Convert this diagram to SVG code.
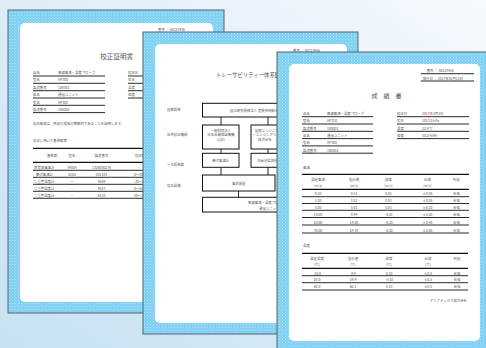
<svg xmlns="http://www.w3.org/2000/svg" width="486" height="348" viewBox="0 0 486 348">
<defs>
<linearGradient id="bg" x1="1" y1="0" x2="0" y2="1">
<stop offset="0" stop-color="#f6fafd"/>
<stop offset="0.45" stop-color="#e0eef8"/>
<stop offset="1" stop-color="#c6e1f2"/>
</linearGradient>
<pattern id="dots" width="3" height="3" patternUnits="userSpaceOnUse">
<rect width="3" height="3" fill="#7ed0f3"/>
<rect x="0" y="0" width="1" height="1" fill="#b4e5fa"/>
<rect x="1.5" y="1.5" width="1" height="1" fill="#a2def8"/>
</pattern>
<style>
.frame{fill:url(#dots);stroke:#56646e;stroke-width:1}
.paper{fill:#fff}
.t{font-family:"Noto Sans CJK JP","Noto Sans",sans-serif;font-size:3.4px;fill:#555}
.m{text-anchor:middle}
.e{text-anchor:end}
.ttl{font-family:"Noto Sans CJK JP","Noto Sans",sans-serif;fill:#555}
.ln{stroke:#111;stroke-width:0.9;fill:none}
.thk{stroke:#111;stroke-width:1.3;fill:none}
.box{fill:#fff;stroke:#111;stroke-width:1}
</style>
</defs>
<rect width="486" height="348" fill="url(#bg)"/>

<g id="doc1">
<rect class="frame" x="8" y="10" width="216" height="303"/>
<rect class="paper" x="20" y="23" width="193" height="279" rx="5"/>
<text class="t" x="158" y="30.5">番号 ： A0123456</text>
<text class="ttl" x="116.7" y="58.5" font-size="6.6" text-anchor="middle">校正証明書</text>
<g class="t">
<text x="33" y="74">品名</text><text x="58" y="74">無線風速・温度プローブ</text>
<text x="33" y="81.3">型名</text><text x="58" y="81.3">AP300</text>
<text x="33" y="88.9">製造番号</text><text x="58" y="88.9">100001</text>
<text x="33" y="96.3">品名</text><text x="58" y="96.3">通信ユニット</text>
<text x="33" y="103.5">型名</text><text x="58" y="103.5">AP300</text>
<text x="33" y="110.8">製造番号</text><text x="58" y="110.8">100002</text>
<text x="128" y="74">校正日</text>
<text x="128" y="81.3">気圧</text>
<text x="128" y="88.9">温度</text>
<text x="128" y="96.3">湿度</text>
<text x="33" y="124.5">校正結果は、所定の規格の範囲内であることを証明します。</text>
<text x="33" y="142">校正に用いた基準器等</text>
<text x="52" y="156.5" class="m">基準器</text>
<text x="72" y="156.5" class="m">型名</text>
<text x="101.5" y="156.5" class="m">製造番号</text>
<text x="135" y="156.5">校正範囲</text>
<text x="34" y="168.5">超音波風速計</text><text x="72" y="168.5" class="m">3400A</text><text x="101.5" y="168.5" class="m">1326000276</text><text x="137" y="168.5">－</text>
<text x="36" y="175.5">熱式風速計</text><text x="72" y="175.5" class="m">6162</text><text x="101.5" y="175.5" class="m">001188</text><text x="134" y="175.5">0～30m/s</text>
<text x="34" y="182.5">二重管温度計</text><text x="72" y="182.5" class="m">－</text><text x="101.5" y="182.5" class="m">4584</text><text x="134" y="182.5">-20～0℃</text>
<text x="34" y="189.5">二重管温度計</text><text x="72" y="189.5" class="m">－</text><text x="101.5" y="189.5" class="m">4587</text><text x="134" y="189.5">0～50℃</text>
<text x="34" y="196.5">二重管温度計</text><text x="72" y="196.5" class="m">－</text><text x="101.5" y="196.5" class="m">6110</text><text x="134" y="196.5">50～100℃</text>
</g>
<g>
<line class="ln" x1="33" y1="76" x2="105" y2="76"/>
<line class="ln" x1="33" y1="83.3" x2="105" y2="83.3"/>
<line class="ln" x1="33" y1="90.7" x2="105" y2="90.7"/>
<line class="ln" x1="33" y1="98" x2="105" y2="98"/>
<line class="ln" x1="33" y1="105.3" x2="105" y2="105.3"/>
<line class="ln" x1="33" y1="112.6" x2="105" y2="112.6"/>
<line class="ln" x1="128" y1="76" x2="170" y2="76"/>
<line class="ln" x1="128" y1="83.3" x2="170" y2="83.3"/>
<line class="ln" x1="128" y1="90.7" x2="170" y2="90.7"/>
<line class="ln" x1="128" y1="98" x2="170" y2="98"/>
<line class="thk" x1="33" y1="148.3" x2="200" y2="148.3"/>
<line class="thk" x1="33" y1="162.3" x2="200" y2="162.3"/>
<line class="ln" x1="33" y1="170.3" x2="200" y2="170.3"/>
<line class="ln" x1="33" y1="177.3" x2="200" y2="177.3"/>
<line class="ln" x1="33" y1="184.3" x2="200" y2="184.3"/>
<line class="ln" x1="33" y1="191.3" x2="200" y2="191.3"/>
<line class="ln" x1="33" y1="198.3" x2="200" y2="198.3"/>
</g>
</g>

<g id="doc2">
<rect class="frame" x="143" y="32" width="215" height="302"/>
<rect class="paper" x="155" y="44" width="192" height="279" rx="5"/>
<text class="t" x="293" y="51.6">番号 ： A0123456</text>
<text class="ttl" x="216" y="77" font-size="5.4">トレーサビリティー体系図</text>
<g class="t">
<text x="167" y="111.3">国家標準</text>
<text x="167" y="136.3">社外校正機関</text>
<text x="167" y="166.3">一次標準器</text>
<text x="167" y="187.3">校正設備</text>
</g>
<g id="flow-connectors" class="ln">
<line x1="221" y1="117" x2="221" y2="125"/>
<line x1="268" y1="117" x2="268" y2="125"/>
<line x1="221" y1="149" x2="221" y2="153.3"/>
<line x1="268" y1="149" x2="268" y2="153.3"/>
<line x1="221" y1="167.3" x2="221" y2="175"/>
<line x1="268" y1="167.3" x2="268" y2="175"/>
<line x1="238.5" y1="191" x2="238.5" y2="197.3"/>
</g>
<g id="n-national">
<rect class="box" x="202.5" y="103.3" width="113.5" height="13.7"/>
<text class="t m" x="259.3" y="111.5">国立研究開発法人 産業技術総合研究所</text>
</g>
<g id="n-jqa">
<rect class="box" x="202.5" y="125" width="36.5" height="24"/>
<text class="t m" x="220.8" y="131.8">一般財団法人</text>
<text class="t m" x="220.8" y="136.2">日本品質保証機構</text>
<text class="t m" x="220.8" y="140.5">(JQA)</text>
</g>
<g id="n-other">
<rect class="box" x="251" y="125" width="36" height="24"/>
<text class="t" x="255" y="131.8">国際エンジニアリング</text>
<text class="t" x="252.5" y="136.2">・エンジニアリング</text>
<text class="t" x="258" y="140.5">株式会社</text>
</g>
<g id="n-thermal">
<rect class="box" x="202.5" y="153.3" width="36.5" height="14"/>
<text class="t m" x="220.8" y="162">熱式風速計</text>
</g>
<g id="n-temp">
<rect class="box" x="251" y="153.3" width="36" height="14"/>
<text class="t m" x="269" y="162">白金測温抵抗体</text>
</g>
<g id="n-tunnel">
<rect class="box" x="202.5" y="175" width="72.5" height="16"/>
<text class="t m" x="238.7" y="184.5">風洞装置</text>
</g>
<g id="n-product">
<rect class="box" x="202.5" y="197.3" width="131" height="14.7"/>
<text class="t" x="248" y="204">無線風速・温度プローブ</text>
<text class="t" x="259" y="209.5">通信ユニット</text>
</g>
</g>

<g id="doc3">
<rect class="frame" x="277" y="52" width="215" height="302"/>
<rect class="paper" x="289" y="64" width="191" height="277" rx="5"/>
<g class="t">
<text x="426.7" y="72.2">番号 ： A0123456</text>
<text x="422.7" y="79.5">発行日 ： 2017年03月12日</text>
</g>
<line class="ln" x1="420.7" y1="73.7" x2="474" y2="73.7"/>
<line class="ln" x1="420.7" y1="81" x2="474" y2="81"/>
<text class="ttl" x="386.5" y="98" font-size="6" text-anchor="middle">成　績　書</text>
<g class="t">
<text x="303" y="115.1">品名</text><text x="327" y="115.1">無線風速・温度プローブ</text>
<text x="303" y="122.4">型名</text><text x="327" y="122.4">AP310</text>
<text x="303" y="129.7">製造番号</text><text x="327" y="129.7">100001</text>
<text x="303" y="137">品名</text><text x="327" y="137">通信ユニット</text>
<text x="303" y="144.3">型名</text><text x="327" y="144.3">AP300</text>
<text x="303" y="151.6">製造番号</text><text x="327" y="151.6">100002</text>
<text x="397" y="115.1">校正日</text><text x="422" y="115.1">2017年3月2日</text>
<text x="397" y="122.4">気圧</text><text x="422" y="122.4">1013.0 hPa</text>
<text x="397" y="129.7">温度</text><text x="422" y="129.7">23.4 ℃</text>
<text x="397" y="137">湿度</text><text x="422" y="137">50.2 %RH</text>
<text x="303" y="168.5">風速</text>
<text class="m" x="318" y="181.2">設定風速</text><text class="m" x="318" y="187.2">(m/s)</text>
<text class="m" x="354" y="181.2">指示値</text><text class="m" x="354" y="187.2">(m/s)</text>
<text class="m" x="388.5" y="181.2">誤差</text><text class="m" x="388.5" y="187.2">(m/s)</text>
<text class="m" x="427.5" y="181.2">仕様</text><text class="m" x="427.5" y="187.2">(m/s)</text>
<text class="m" x="456.5" y="181.2">判定</text>
<text class="m" x="318" y="195.2">0.50</text><text class="m" x="354" y="195.2">0.51</text><text class="m" x="388.5" y="195.2">0.01</text><text class="m" x="427.5" y="195.2">±0.05</text><text class="m" x="456.5" y="195.2">合格</text>
<text class="m" x="318" y="202.2">1.00</text><text class="m" x="354" y="202.2">1.01</text><text class="m" x="388.5" y="202.2">0.01</text><text class="m" x="427.5" y="202.2">±0.05</text><text class="m" x="456.5" y="202.2">合格</text>
<text class="m" x="318" y="208.9">5.00</text><text class="m" x="354" y="208.9">5.01</text><text class="m" x="388.5" y="208.9">0.01</text><text class="m" x="427.5" y="208.9">±0.10</text><text class="m" x="456.5" y="208.9">合格</text>
<text class="m" x="318" y="216.2">10.00</text><text class="m" x="354" y="216.2">9.99</text><text class="m" x="388.5" y="216.2">−0.01</text><text class="m" x="427.5" y="216.2">±0.20</text><text class="m" x="456.5" y="216.2">合格</text>
<text class="m" x="318" y="223.5">20.00</text><text class="m" x="354" y="223.5">19.80</text><text class="m" x="388.5" y="223.5">−0.20</text><text class="m" x="427.5" y="223.5">±0.40</text><text class="m" x="456.5" y="223.5">合格</text>
<text class="m" x="318" y="231.7">30.00</text><text class="m" x="354" y="231.7">29.70</text><text class="m" x="388.5" y="231.7">−0.30</text><text class="m" x="427.5" y="231.7">±0.60</text><text class="m" x="456.5" y="231.7">合格</text>
<text x="303" y="247.2">温度</text>
<text class="m" x="317" y="260.4">設定温度</text><text class="m" x="317" y="265.6">(℃)</text>
<text class="m" x="353" y="260.4">指示値</text><text class="m" x="353" y="265.6">(℃)</text>
<text class="m" x="389" y="260.4">誤差</text><text class="m" x="389" y="265.6">(℃)</text>
<text class="m" x="428" y="260.4">仕様</text><text class="m" x="428" y="265.6">(℃)</text>
<text class="m" x="457" y="260.4">判定</text>
<text class="m" x="317" y="274.5">-10.0</text><text class="m" x="353" y="274.5">-9.9</text><text class="m" x="389" y="274.5">0.10</text><text class="m" x="428" y="274.5">±0.5</text><text class="m" x="457" y="274.5">合格</text>
<text class="m" x="317" y="281.3">20.0</text><text class="m" x="353" y="281.3">19.9</text><text class="m" x="389" y="281.3">−0.10</text><text class="m" x="428" y="281.3">±0.5</text><text class="m" x="457" y="281.3">合格</text>
<text class="m" x="317" y="288.4">60.0</text><text class="m" x="353" y="288.4">60.1</text><text class="m" x="389" y="288.4">0.10</text><text class="m" x="428" y="288.4">±0.5</text><text class="m" x="457" y="288.4">合格</text>
<text class="e" x="467" y="302">アドアテックス株式会社</text>
</g>
<g>
<line class="ln" x1="302" y1="116.7" x2="373" y2="116.7"/>
<line class="ln" x1="302" y1="124" x2="373" y2="124"/>
<line class="ln" x1="302" y1="131.3" x2="373" y2="131.3"/>
<line class="ln" x1="302" y1="138.6" x2="373" y2="138.6"/>
<line class="ln" x1="302" y1="145.9" x2="373" y2="145.9"/>
<line class="ln" x1="302" y1="153.2" x2="373" y2="153.2"/>
<line class="ln" x1="397" y1="116.7" x2="469" y2="116.7"/>
<line class="ln" x1="397" y1="124" x2="469" y2="124"/>
<line class="ln" x1="397" y1="131.3" x2="469" y2="131.3"/>
<line class="ln" x1="397" y1="138.6" x2="469" y2="138.6"/>
<line class="thk" x1="302" y1="174.3" x2="469" y2="174.3"/>
<line class="thk" x1="302" y1="189.3" x2="469" y2="189.3"/>
<line class="ln" x1="302" y1="196.7" x2="469" y2="196.7"/>
<line class="ln" x1="302" y1="203.5" x2="469" y2="203.5"/>
<line class="ln" x1="302" y1="210.3" x2="469" y2="210.3"/>
<line class="ln" x1="302" y1="217.5" x2="469" y2="217.5"/>
<line class="ln" x1="302" y1="225" x2="469" y2="225"/>
<line class="ln" x1="302" y1="233" x2="469" y2="233"/>
<line class="thk" x1="302" y1="253.3" x2="468" y2="253.3"/>
<line class="thk" x1="302" y1="268.3" x2="468" y2="268.3"/>
<line class="ln" x1="302" y1="275.7" x2="468" y2="275.7"/>
<line class="ln" x1="302" y1="282.7" x2="468" y2="282.7"/>
<line class="ln" x1="302" y1="290" x2="468" y2="290"/>
</g>
</g>
</svg>
